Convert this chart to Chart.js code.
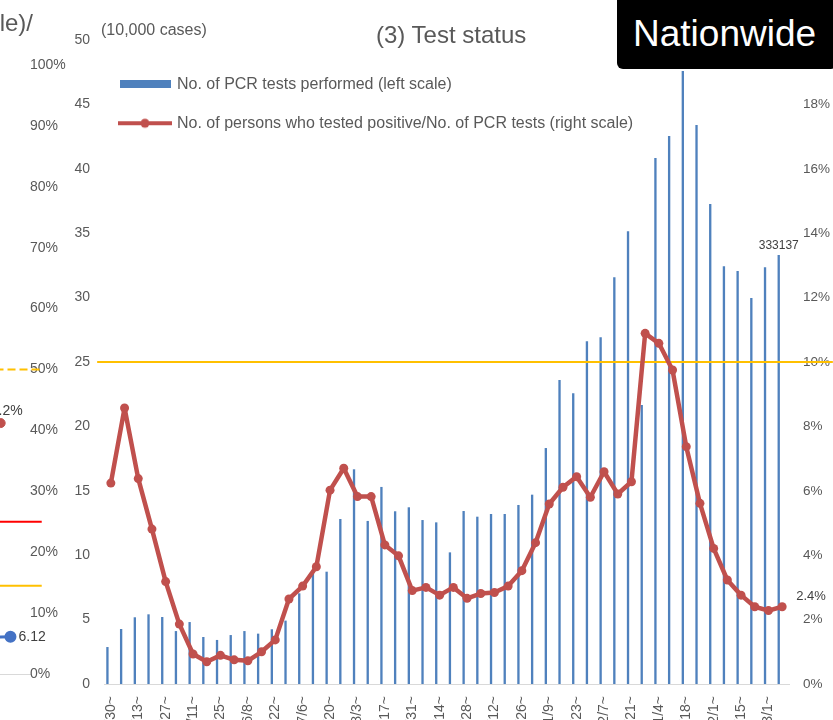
<!DOCTYPE html>
<html>
<head>
<meta charset="utf-8">
<script src="https://cdn.jsdelivr.net/npm/chart.js@4"></script>
<style>
  html, body { margin: 0; padding: 0; background: #fff; }
  #frame { position: relative; width: 833px; height: 720px; overflow: hidden; background: #fff;
           font-family: 'Liberation Sans', Arial, sans-serif; }
  #sideBox { position: absolute; left: -300px; top: 0; width: 372px; height: 720px; }
  #mainBox { position: absolute; left: 0; top: 0; width: 833px; height: 770px; }
  .txt { position: absolute; white-space: nowrap; color: #595959; }
  #title { left: 376px; top: 23px; font-size: 24px; line-height: 24px; }
  #unit { left: 101px; top: 22px; font-size: 16px; line-height: 16px; }
  #sideTitle { right: 800px; top: 11px; font-size: 24px; line-height: 24px; text-align: right; }
  #badge { position: absolute; left: 617px; top: -6px; width: 220px; height: 75px; background: #000;
           border-radius: 6px; color: #fff; font-size: 37px; line-height: 37px; box-sizing: border-box;
           padding: 21px 0 0 16px; }
</style>
</head>
<body>
<div id="frame">
  <div id="sideBox"><canvas id="sideChart" width="372" height="720"></canvas></div>
  <div id="mainBox"><canvas id="testStatus" width="833" height="770"></canvas></div>
  <div class="txt" id="sideTitle">(right scale)/</div>
  <div class="txt" id="unit">(10,000 cases)</div>
  <div class="txt" id="title">(3) Test status</div>
  <div id="badge">Nationwide</div>
</div>
<script>
// weekly categories (week starting)
const weeks = ["3/30~", "4/6~", "4/13~", "4/20~", "4/27~", "5/4~", "5/11~", "5/18~", "5/25~", "6/1~",
  "6/8~", "6/15~", "6/22~", "6/29~", "7/6~", "7/13~", "7/20~", "7/27~", "8/3~", "8/10~",
  "8/17~", "8/24~", "8/31~", "9/7~", "9/14~", "9/21~", "9/28~", "10/5~", "10/12~", "10/19~",
  "10/26~", "11/2~", "11/9~", "11/16~", "11/23~", "11/30~", "12/7~", "12/14~", "12/21~", "12/28~",
  "1/4~", "1/11~", "1/18~", "1/25~", "2/1~", "2/8~", "2/15~", "2/22~", "3/1~", "3/8~"];

// PCR tests performed, in 10,000 cases
const pcrTests = [2.87, 4.27, 5.18, 5.41, 5.20, 4.11, 4.81, 3.65, 3.42, 3.80,
  4.11, 3.91, 4.25, 4.92, 7.04, 8.85, 8.72, 12.81, 16.67, 12.66,
  15.30, 13.41, 13.72, 12.73, 12.55, 10.22, 13.43, 12.99, 13.20, 13.20,
  13.90, 14.70, 18.32, 23.60, 22.57, 26.61, 26.92, 31.58, 35.15, 21.66,
  40.84, 42.55, 47.6, 43.40, 37.27, 32.43, 32.07, 29.97, 32.35, 33.3137];

// positive / PCR tests, %
const positiveRate = [6.24, 8.57, 6.38, 4.81, 3.18, 1.86, 0.93, 0.69, 0.89, 0.75,
  0.72, 1.00, 1.37, 2.64, 3.04, 3.64, 6.02, 6.70, 5.82, 5.82,
  4.32, 3.98, 2.90, 3.00, 2.76, 3.00, 2.66, 2.81, 2.84, 3.04,
  3.52, 4.39, 5.59, 6.11, 6.44, 5.80, 6.59, 5.90, 6.28, 10.89,
  10.58, 9.75, 7.37, 5.61, 4.21, 3.23, 2.76, 2.40, 2.28, 2.40];

const rateLine = 10; // % reference line

// neighbouring chart, only its right edge is visible
const sideBlue = [6.0, 6.12];
const sideRed = [41.2];
const sideLevels = [50, 25, 14.5];

const FONT = "'Liberation Sans', Arial, sans-serif";
Chart.defaults.font.family = FONT;
Chart.defaults.color = "#595959";

function makeLabels(items) {
  return {
    id: "pointLabels",
    afterDatasetsDraw(chart) {
      const ctx = chart.ctx;
      items.forEach(it => {
        const el = chart.getDatasetMeta(it.dataset).data[it.index];
        if (!el) return;
        ctx.save();
        ctx.font = it.size + "px " + FONT;
        ctx.fillStyle = "#404040";
        ctx.textAlign = it.align;
        ctx.textBaseline = "middle";
        ctx.fillText(it.text, el.x + it.dx, el.y + it.dy);
        ctx.restore();
      });
    }
  };
}

function icon(w, h, draw) {
  const c = document.createElement("canvas");
  c.width = w; c.height = h;
  draw(c.getContext("2d"));
  return c;
}
const barIcon = icon(60, 8, g => { g.fillStyle = "#4f81bd"; g.fillRect(2, 0, 51, 8); });
const lineIcon = icon(60, 12, g => {
  g.strokeStyle = "#c0504d"; g.lineWidth = 4;
  g.beginPath(); g.moveTo(0, 6); g.lineTo(54, 6); g.stroke();
  g.fillStyle = "#c0504d";
  g.beginPath(); g.arc(27, 6, 4.5, 0, Math.PI * 2); g.fill();
});

const noGrid = { display: false, drawTicks: false };

// ---- neighbour chart fragment (plot ends at x=30 on the page)
const lvlColors = ["#ffc000", "#ff0000", "#ffc000"];
new Chart(document.getElementById("sideChart"), {
  type: "line",
  data: {
    datasets: [
      ...sideLevels.map((v, i) => ({
        data: [{ x: 0, y: v }, { x: 34.2, y: v }],
        borderColor: lvlColors[i], borderWidth: 2, pointRadius: 0, clip: false,
        borderDash: i === 0 ? [8, 4] : []
      })),
      {
        data: sideBlue.map((v, i) => ({ x: 28 + i * 3, y: v })),
        borderColor: "#4472c4", backgroundColor: "#4472c4", borderWidth: 3, pointRadius: 4.5, clip: false
      },
      {
        data: sideRed.map(v => ({ x: 30, y: v })),
        borderColor: "#c0504d", backgroundColor: "#c0504d", pointRadius: 4.5, clip: false
      }
    ]
  },
  options: {
    responsive: false,
    animation: false,
    layout: { padding: { top: 65 } },
    plugins: { legend: { display: false }, tooltip: { enabled: false } },
    scales: {
      x: {
        type: "linear", min: 0, max: 33,
        grid: noGrid,
        border: { display: true, color: "#d9d9d9" },
        ticks: { display: false },
        afterFit: s => { s.height = 46; s.paddingLeft = 0; s.paddingRight = 0; }
      },
      y: {
        position: "right", min: 0, max: 100,
        grid: noGrid,
        border: { display: false },
        ticks: { stepSize: 10, padding: 0, font: { size: 14 }, callback: v => v + "%" },
        afterFit: s => { s.width = 42; }
      }
    }
  },
  plugins: [makeLabels([
    { dataset: 3, index: 1, text: sideBlue[1].toFixed(2), dx: 8, dy: 0, align: "left", size: 14 },
    { dataset: 4, index: 0, text: sideRed[0].toFixed(1) + "%", dx: 22, dy: -12, align: "right", size: 14 }
  ])]
});

// ---- (3) Test status
const labelItems = [
  { dataset: 0, index: 49, text: String(Math.round(pcrTests[49] * 10000)), dx: 0, dy: -9, align: "center", size: 12 },
  { dataset: 1, index: 49, text: positiveRate[49].toFixed(1) + "%", dx: 14, dy: -10, align: "left", size: 13 }
];

new Chart(document.getElementById("testStatus"), {
  data: {
    labels: weeks,
    datasets: [
      {
        type: "bar",
        label: "No. of PCR tests performed (left scale)",
        data: pcrTests,
        backgroundColor: "#4f81bd",
        barPercentage: 0.34,
        categoryPercentage: 1,
        xAxisID: "x", yAxisID: "yL",
        order: 2
      },
      {
        type: "line",
        label: "No. of persons who tested positive/No. of PCR tests (right scale)",
        data: positiveRate,
        borderColor: "#c0504d",
        backgroundColor: "#c0504d",
        borderWidth: 4.5,
        borderJoinStyle: "round",
        borderCapStyle: "round",
        pointRadius: 4.5,
        pointBorderWidth: 0,
        tension: 0,
        xAxisID: "x", yAxisID: "yR",
        order: 0
      },
      {
        type: "line",
        label: "10%",
        data: [{ x: -0.01, y: rateLine }, { x: 1.064, y: rateLine }],
        borderColor: "#ffc000",
        borderWidth: 2,
        pointRadius: 0,
        clip: false,
        xAxisID: "xh", yAxisID: "yR",
        order: 1
      }
    ]
  },
  options: {
    responsive: false,
    animation: false,
    layout: { padding: { top: 40, left: 0, right: 0, bottom: 0 } },
    plugins: {
      tooltip: { enabled: false },
      legend: {
        position: "chartArea",
        align: "start",
        title: { display: true, text: "", font: { size: 11 }, padding: { top: 40, bottom: 0 } },
        labels: {
          usePointStyle: true,
          pointStyleWidth: 42,
          padding: 23,
          font: { size: 16 },
          color: "#595959",
          generateLabels: chart => [0, 1].map(i => ({
            text: chart.data.datasets[i].label,
            pointStyle: i === 0 ? barIcon : lineIcon,
            datasetIndex: i,
            fontColor: "#595959",
            hidden: false,
            lineWidth: 0
          }))
        }
      }
    },
    scales: {
      x: {
        type: "category",
        offset: true,
        grid: noGrid,
        border: { display: true, color: "#d9d9d9", width: 1 },
        ticks: {
          autoSkip: false, minRotation: 90, maxRotation: 90, padding: 12,
          font: { size: 14 },
          callback: function (v, i) { return i % 2 === 0 ? this.getLabelForValue(v) : ""; }
        },
        afterFit: s => { s.height = 86; s.paddingLeft = 0; s.paddingRight = 0; }
      },
      xh: { type: "linear", display: false, min: 0, max: 1 },
      yL: {
        position: "left", min: 0, max: 50,
        grid: noGrid,
        border: { display: false },
        ticks: { stepSize: 5, padding: 14, font: { size: 14 } },
        afterFit: s => { s.width = 104; }
      },
      yR: {
        position: "right", min: 0, max: 20,
        grid: noGrid,
        border: { display: false },
        ticks: { stepSize: 2, padding: 14, font: { size: 13.5 }, callback: v => v + "%" },
        afterFit: s => { s.width = 44; }
      }
    }
  },
  plugins: [makeLabels(labelItems)]
});
</script>
</body>
</html>
